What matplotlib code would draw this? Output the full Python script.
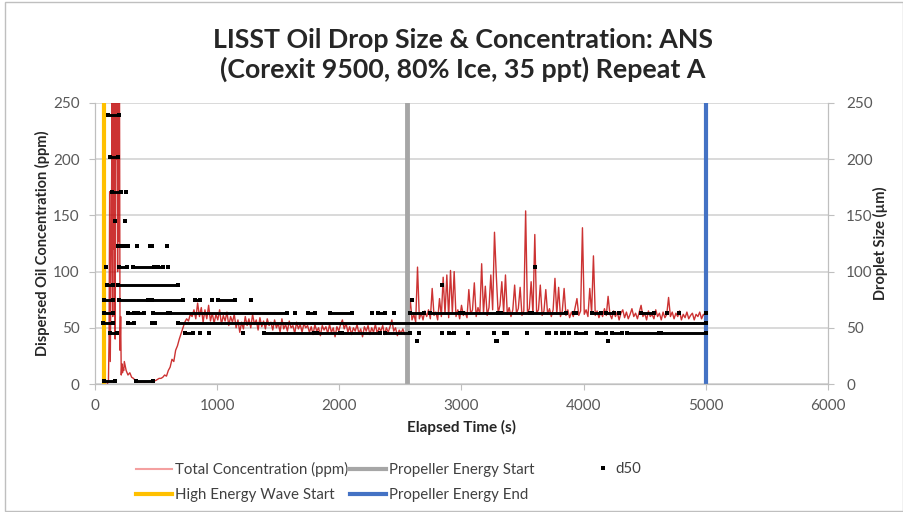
import numpy as np
import matplotlib
matplotlib.use('Agg')
import matplotlib.pyplot as plt
from matplotlib.lines import Line2D
from matplotlib.patches import Rectangle

plt.rcParams['font.family'] = ['Lato', 'DejaVu Sans']

# --- concentration (ppm) ---
# early burst, sampled every 5 s from t0_early
t0_early, dt_early = 100, 5
conc_early = [0, 1, 2, 40, 171, 20, 90, 150, 280, 60, 300, 120, 290, 40,
              310, 200, 280, 100, 270, 127, 300, 30, 60, 8, 18, 10, 14, 12]

# main record, sampled every 15 s from t0_main (one row = 300 s)
t0_main, dt_main = 240, 15
conc_main = [
    20, 12, 8, 10, 6, 5, 3, 2, 2, 1.5, 2, 1.5, 2, 2, 2.5, 2, 3, 3, 4, 5,
    5, 6, 8, 7, 12, 15, 22, 20, 30, 34, 40, 45, 50, 55, 58, 56, 62, 60, 66, 58,
    72, 60, 68, 55, 66, 58, 70, 56, 63, 54, 62, 57, 66, 53, 61, 56, 64, 52, 60, 55,
    62, 50, 57, 46, 55, 49, 60, 52, 58, 50, 62, 53, 57, 48, 59, 51, 56, 49, 58, 52,
    55, 48, 57, 50, 54, 46, 58, 49, 53, 47, 56, 50, 52, 45, 55, 49, 53, 46, 54, 50,
    52, 46, 51, 44, 53, 47, 50, 43, 52, 48, 51, 45, 53, 46, 50, 42, 51, 47, 53, 57,
    49, 54, 46, 51, 44, 50, 47, 53, 45, 49, 42, 51, 47, 52, 44, 50, 46, 53, 45, 50,
    47, 52, 44, 50, 46, 51, 57, 47, 50, 43, 48, 45, 49, 44, 46, 52, 76, 57, 62, 55,
    104, 58, 63, 57, 65, 60, 66, 58, 85, 61, 64, 57, 76, 60, 95, 62, 97, 59, 101, 63,
    100, 60, 66, 58, 70, 61, 64, 59, 84, 62, 66, 90, 60, 68, 62, 107, 63, 87, 61, 68,
    97, 66, 135, 96, 63, 70, 91, 64, 97, 62, 68, 60, 66, 88, 63, 67, 86, 61, 65, 154,
    63, 67, 91, 62, 133, 63, 66, 88, 61, 65, 84, 62, 67, 60, 66, 94, 62, 86, 60, 65,
    85, 61, 66, 59, 64, 60, 68, 76, 61, 65, 139, 62, 66, 60, 85, 63, 114, 61, 65, 59,
    64, 60, 67, 61, 78, 62, 58, 65, 60, 64, 57, 63, 66, 59, 64, 58, 62, 67, 60, 63,
    58, 64, 70, 60, 63, 57, 65, 60, 62, 58, 66, 60, 63, 57, 64, 59, 62, 77, 60, 64,
    58, 63, 60, 65, 57, 62, 59, 64, 58, 61, 63, 57, 62, 60, 64, 58, 62, 60,
]

# --- d50 droplet size (um): runs of identical size class (start s, end s) ---
d50_levels = [2.5, 38.5, 45, 54, 63, 75, 88, 104, 123, 145, 171, 202, 239]
d50_runs = [
    [(70, 165), (335, 478)],
    [(2636, 2636), (3279, 3293), (4202, 4202)],
    [(123, 178), (740, 806), (861, 861), (934, 934), (1213, 1213), (1380, 1790),
     (1817, 2008), (2022, 2336), (2377, 2582), (2650, 2650), (2840, 2840),
     (2900, 2940), (3055, 3055), (3265, 3265), (3350, 3375), (3538, 3538),
     (3702, 3716), (3770, 3770), (3820, 3840), (3880, 3880), (3934, 4016),
     (4112, 4180), (4235, 4317), (4358, 4617), (4631, 5005)],
    [(66, 148), (270, 320), (464, 492), (683, 5005)],
    [(74, 145), (268, 322), (355, 402), (473, 601), (615, 1571), (1639, 1639),
     (1746, 1803), (1926, 2104), (2264, 2264), (2320, 2370), (2445, 2445),
     (2582, 2689), (2746, 2990), (3010, 3300), (3320, 3560), (3580, 3852),
     (3921, 3934), (4071, 4139), (4180, 4249), (4290, 4290), (4467, 4576),
     (4686, 4686), (4781, 4781), (5000, 5000)],
    [(74, 145), (199, 437), (464, 724), (820, 861), (956, 956), (1008, 1148),
     (1276, 1276), (2596, 2596)],
    [(96, 145), (191, 683), (2842, 2842)],
    [(93, 93), (197, 265), (314, 484), (516, 560), (598, 598), (3601, 3601)],
    [(190, 204), (240, 273), (342, 342), (451, 467), (588, 588)],
    [(164, 164), (246, 246)],
    [(142, 215), (250, 250)],
    [(123, 186)],
    [(109, 197)],
]

# event markers (s)
wave_start = 75
prop_start = 2555
prop_end = 5000

t_early = t0_early + dt_early * np.arange(len(conc_early))
t_main = t0_main + dt_main * np.arange(len(conc_main))
t_conc = np.concatenate([t_early, t_main])
conc = np.concatenate([conc_early, conc_main])

fig = plt.figure(figsize=(9.04, 5.12), dpi=100)
ax = fig.add_axes([95 / 904, 1 - 384 / 512, 733 / 904, 281 / 512])
ax2 = ax.twinx()

grid_c = '#D9D9D9'
tick_c = '#595959'
lab_c = '#262626'

ax.set_xlim(0, 6000)
ax.set_ylim(0, 250)
ax2.set_ylim(0, 250)
ax.set_xticks(np.arange(0, 6001, 1000))
ax.set_yticks(np.arange(0, 251, 50))
ax2.set_yticks(np.arange(0, 251, 50))
ax.yaxis.grid(True, color=grid_c, lw=1.4)
ax.set_axisbelow(True)

for a in (ax, ax2):
    a.spines['top'].set_visible(False)
    for s in ('left', 'bottom', 'right'):
        a.spines[s].set_color('#BFBFBF')
    a.tick_params(colors=tick_c, labelsize=11, length=4, width=0.8, color='#BFBFBF')
ax.tick_params(axis='x', pad=7)
ax.tick_params(axis='y', pad=7)
ax2.tick_params(axis='y', pad=9)

ax.plot(t_conc, conc, color='#C00000', lw=1.0, alpha=0.8)
ax.axvline(wave_start, color='#FFC000', lw=3)
ax.axvline(prop_start, color='#A6A6A6', lw=3.5)
ax.axvline(prop_end, color='#4472C4', lw=3)

for lvl, runs in zip(d50_levels, d50_runs):
    for t0, t1 in runs:
        ax2.plot([t0, t1], [lvl, lvl], color='black', lw=2.1,
                 marker='s', ms=2.4, mew=0, solid_capstyle='butt')

ax.set_xlabel('Elapsed Time (s)', fontsize=11, fontweight='bold', color=lab_c, labelpad=5)
ax.set_ylabel('Dispersed Oil Concentration (ppm)', fontsize=10.5, fontweight='bold', color=lab_c, labelpad=2)
ax2.set_ylabel('Droplet Size (µm)', fontsize=10.5, fontweight='bold', color=lab_c, labelpad=0)

fig.text(0.512, 1 - 55 / 512, 'LISST Oil Drop Size & Concentration: ANS\n(Corexit 9500, 80% Ice, 35 ppt) Repeat A',
         ha='center', va='center', fontsize=19.3, fontweight='bold', color=lab_c, linespacing=1.2)

handles = [
    Line2D([], [], color='#F4A0A0', lw=1.5),
    Line2D([], [], color='#FFC000', lw=3),
    Line2D([], [], color='#A6A6A6', lw=3),
    Line2D([], [], color='#4472C4', lw=3),
]
labels = ['Total Concentration (ppm)', 'High Energy Wave Start', 'Propeller Energy Start',
          'Propeller Energy End']
fig.legend(handles, labels, ncol=2, loc='upper left', bbox_to_anchor=(130 / 904, 1 - 456 / 512),
           frameon=False, fontsize=10.8, handlelength=2.4, handletextpad=0.2, columnspacing=0.15,
           labelspacing=0.75, labelcolor='#404040', borderaxespad=0)
fig.legend([Line2D([], [], color='black', ls='none', marker='s', ms=2.4, mew=0)], ['d50'],
           loc='upper left', bbox_to_anchor=(589 / 904, 1 - 456 / 512), frameon=False, fontsize=10.8,
           handlelength=1.0, handletextpad=0.35, labelcolor='#404040', borderaxespad=0)

fig.patches.append(Rectangle((5 / 904, 0.002), 898 / 904, 1 - 2 / 512 - 0.002, transform=fig.transFigure,
                             fill=False, edgecolor='#BFBFBF', lw=1))

fig.savefig('out.png', dpi=100)
